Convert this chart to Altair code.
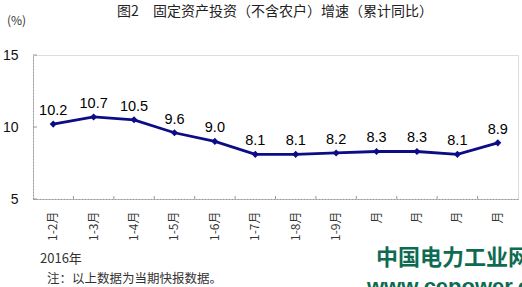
import altair as alt
import pandas as pd

categories = ["1-2月", "1-3月", "1-4月", "1-5月", "1-6月", "1-7月", "1-8月", "1-9月",
              "1-10月", "1-11月", "1-12月", "2017年1-2月"]
tick_labels = ["1-2月", "1-3月", "1-4月", "1-5月", "1-6月", "1-7月", "1-8月", "1-9月",
               "月", "月", "月", "月"]
values = [10.2, 10.7, 10.5, 9.6, 9.0, 8.1, 8.1, 8.2, 8.3, 8.3, 8.1, 8.9]
y_ticks = [5, 10, 15]

title_text = "图2　固定资产投资（不含农户）增速（累计同比）"
unit_text = "(%)"
year_text = "2016年"
note_text = "注：以上数据为当期快报数据。"
wm1 = "中国电力工业网"
wm2 = "www.cepower.com"

df = pd.DataFrame({"cat": categories, "v": values})
df["lbl"] = [f"{v:.1f}" for v in values]
ticks_df = pd.DataFrame({"y": y_ticks})
edges_df = pd.DataFrame({"cat": categories[1:]})

W, H = 485, 144
navy = "#0c0c86"
sans = "Liberation Sans"
cjk = "Noto Sans CJK SC"

xscale = alt.Scale(type="band", domain=categories, paddingInner=0, paddingOuter=0)
yscale = alt.Scale(domain=[5, 15], nice=False)

cat_js = "[" + ",".join(f"'{c}'" for c in categories) + "]"
lbl_js = "[" + ",".join(f"'{c}'" for c in tick_labels) + "]"

x_enc = alt.X("cat:N", scale=xscale, sort=categories,
              axis=alt.Axis(title=None, labelAngle=-90, labelPadding=12, ticks=False,
                            labelFont=cjk, labelFontSize=12, labelColor="#333",
                            domainColor="#999", domainDash=[2, 1], domainWidth=1,
                            labelExpr=f"{lbl_js}[indexof({cat_js}, datum.value)]"))
y_enc = alt.Y("v:Q", scale=yscale,
              axis=alt.Axis(title=None, values=y_ticks, ticks=False, grid=False,
                            labelPadding=15, labelFont=sans, labelFontSize=14,
                            labelColor="#111", domainColor="#999", domainDash=[2, 1]))

line = alt.Chart(df).mark_line(color=navy, strokeWidth=2.8).encode(x=x_enc, y=y_enc)
pts = alt.Chart(df).mark_point(shape="diamond", filled=True, color=navy, size=50, opacity=1).encode(
    x=alt.X("cat:N", scale=xscale, sort=categories), y=alt.Y("v:Q", scale=yscale))
txt = alt.Chart(df).mark_text(font=sans, fontSize=14.5, color="#000", baseline="bottom", dy=-6).encode(
    x=alt.X("cat:N", scale=xscale, sort=categories), y=alt.Y("v:Q", scale=yscale), text="lbl:N")

ytick_rules = alt.Chart(ticks_df).mark_rule(color="#999", strokeWidth=1).encode(
    y=alt.Y("y:Q", scale=yscale), x=alt.value(0), x2=alt.value(4))
xtick_rules = alt.Chart(edges_df).mark_rule(color="#999", strokeWidth=1).encode(
    x=alt.X("cat:N", scale=xscale, sort=categories, bandPosition=0),
    y=alt.value(H), y2=alt.value(H - 3))

def note(text, x, y, size, font, color="#333", weight="normal", align="left"):
    return alt.Chart(pd.DataFrame({"t": [text]})).mark_text(
        font=font, fontSize=size, color=color, fontWeight=weight, align=align, baseline="middle"
    ).encode(x=alt.value(x), y=alt.value(y), text="t:N")

annotations = [
    note(title_text, 242, -43, 14, cjk, "#222", align="center"),
    note(unit_text, -26, -34, 12, cjk, "#333"),
    note(year_text, 7, 204, 13, cjk, "#333"),
    note(note_text, 14, 224, 12.5, cjk, "#333"),
    note(wm1, 343, 203, 22, cjk, "#0e6b52", "bold"),
    note(wm2, 334, 232, 22, sans, "#0e6b52", "bold"),
]

chart = alt.layer(line, pts, txt, ytick_rules, xtick_rules, *annotations).properties(
    width=W, height=H,
    autosize=alt.AutoSizeParams(type="none"),
    padding={"left": 33, "top": 55, "right": 4, "bottom": 88},
).configure_view(stroke=None).configure(background="white")

chart.save("out.html", embed_options={"renderer": "svg", "actions": False})
